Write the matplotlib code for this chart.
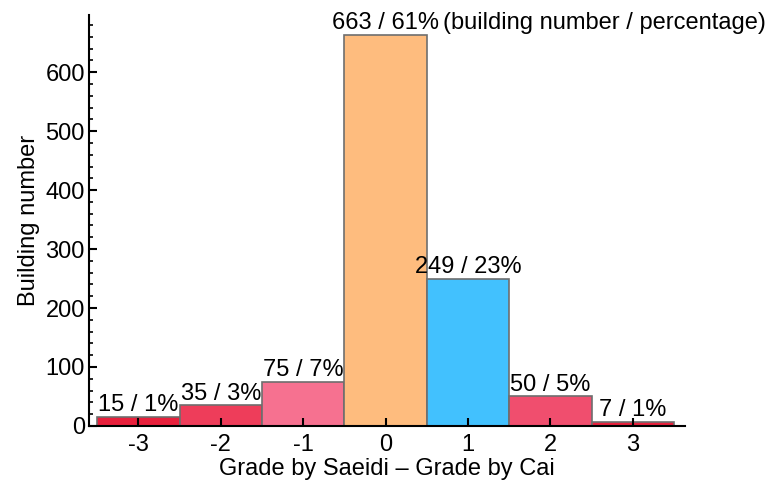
import numpy as np
import matplotlib.pyplot as plt
from matplotlib.ticker import MultipleLocator

plt.rcParams['font.family'] = ['Liberation Sans', 'DejaVu Sans']
plt.rcParams['axes.unicode_minus'] = False

# grade difference (Saeidi - Cai) and building counts
grades = [-3, -2, -1, 0, 1, 2, 3]
counts = [15, 35, 75, 663, 249, 50, 7]
percents = [1, 3, 7, 61, 23, 5, 1]
colors = ['#E8203C', '#EE3D5A', '#F67190', '#FEBC7E', '#42C1FE', '#F04E6E', '#E8203C']

fs = 17

fig = plt.figure(figsize=(7.71, 4.84), dpi=100)
ax = fig.add_axes([0.1154, 0.12, 0.7726, 0.849])

ax.bar(grades, counts, width=1.0, color=colors, edgecolor='#6E6E6E', linewidth=1.2)

for g, c, p in zip(grades, counts, percents):
    ax.annotate(f'{c} / {p}%', (g, c), xytext=(0, 0.5), textcoords='offset points',
                ha='center', va='bottom', fontsize=fs)
# legend-like note next to the tallest bar
ax.annotate('(building number / percentage)', (0, counts[3]), xytext=(41.5, 0.5),
            textcoords='offset points', ha='left', va='bottom', fontsize=fs)

ax.set_xlim(-3.6, 3.63)
ax.set_ylim(0, 697)
ax.set_xticks(grades)
ax.yaxis.set_major_locator(MultipleLocator(100))
ax.yaxis.set_minor_locator(MultipleLocator(20))
ax.tick_params(axis='both', direction='in', labelsize=fs, width=1.5, length=6)
ax.tick_params(axis='y', which='minor', direction='in', width=1.2, length=3)
ax.tick_params(axis='x', pad=6)
ax.tick_params(axis='y', pad=3)

ax.spines['top'].set_visible(False)
ax.spines['right'].set_visible(False)
ax.spines['left'].set_linewidth(1.5)
ax.spines['bottom'].set_linewidth(1.5)

ax.set_xlabel('Grade by Saeidi \u2013 Grade by Cai', fontsize=fs, labelpad=1)
ax.set_ylabel('Building number', fontsize=fs, labelpad=4)

fig.savefig('out.png', dpi=100)
